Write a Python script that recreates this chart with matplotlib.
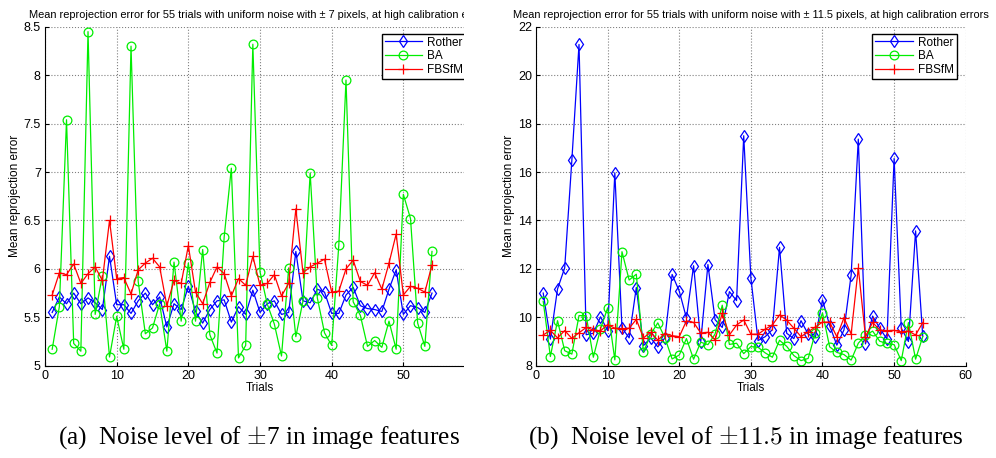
import numpy as np
import matplotlib
matplotlib.use('Agg')
import matplotlib.pyplot as plt
from matplotlib.patches import Rectangle

# Datos (54 pruebas)
trials = np.arange(1, 55)

# (a) ruido +-7
rother_a = [5.55, 5.71, 5.64, 5.75, 5.64, 5.70, 5.65, 5.58, 6.13, 5.63,
            5.63, 5.54, 5.67, 5.75, 5.63, 5.71, 5.40, 5.64, 5.58, 5.82,
            5.56, 5.44, 5.58, 5.67, 5.68, 5.45, 5.61, 5.53, 5.78, 5.55,
            5.64, 5.67, 5.53, 5.55, 6.18, 5.67, 5.65, 5.79, 5.76, 5.54,
            5.54, 5.73, 5.81, 5.62, 5.59, 5.58, 5.56, 5.79, 5.99, 5.53,
            5.62, 5.60, 5.55, 5.75]
ba_a = [5.17, 5.61, 7.54, 5.23, 5.15, 8.45, 5.53, 5.93, 5.09, 5.51,
        5.17, 8.30, 5.87, 5.33, 5.39, 5.64, 5.15, 6.07, 5.46, 6.06,
        5.46, 6.20, 5.32, 5.13, 6.33, 7.04, 5.08, 5.21, 8.32, 5.97,
        5.64, 5.43, 5.10, 6.01, 5.30, 5.67, 6.99, 5.70, 5.34, 5.21,
        6.25, 7.95, 5.66, 5.52, 5.20, 5.26, 5.19, 5.46, 5.17, 6.77,
        6.52, 5.44, 5.20, 6.18]
fbsfm_a = [5.73, 5.96, 5.94, 6.05, 5.85, 5.95, 6.02, 5.88, 6.50, 5.90,
           5.91, 5.74, 5.99, 6.06, 6.11, 6.02, 5.62, 5.88, 5.85, 6.24,
           5.76, 5.64, 5.86, 6.02, 5.95, 5.72, 5.90, 5.83, 6.13, 5.83,
           5.85, 5.94, 5.72, 5.85, 6.62, 5.96, 6.02, 6.06, 6.10, 5.76,
           5.77, 6.00, 6.09, 5.87, 5.83, 5.96, 5.79, 6.06, 6.36, 5.73,
           5.82, 5.80, 5.76, 6.04]

# (b) ruido +-11.5
rother_b = [11.00, 9.10, 11.17, 12.04, 16.49, 21.27, 9.28, 9.34, 10.02, 9.45,
            15.97, 9.56, 9.15, 11.23, 8.83, 9.15, 8.78, 9.15, 11.77, 11.08,
            9.97, 12.13, 9.00, 12.18, 9.90, 9.58, 11.06, 10.69, 17.50, 11.62,
            9.04, 9.20, 9.49, 12.89, 9.34, 9.12, 9.86, 9.30, 9.17, 10.72,
            9.66, 8.85, 9.48, 11.75, 17.36, 8.90, 10.05, 9.55, 9.10, 16.56,
            9.55, 9.00, 13.57, 9.22]
ba_b = [10.66, 8.38, 9.86, 8.62, 8.48, 10.07, 10.07, 8.35, 9.52, 10.39,
        8.24, 12.71, 11.54, 11.78, 8.55, 9.30, 9.77, 9.15, 8.28, 8.44,
        9.12, 8.27, 8.97, 8.87, 9.31, 10.50, 8.88, 8.93, 8.50, 8.79,
        8.76, 8.53, 8.35, 9.05, 8.80, 8.42, 8.21, 8.30, 9.36, 10.18,
        8.78, 8.55, 8.46, 8.23, 8.93, 9.25, 9.43, 9.01, 8.92, 8.87,
        8.21, 9.78, 8.27, 9.20]
fbsfm_b = [9.27, 9.46, 9.15, 9.45, 9.13, 9.36, 9.58, 9.48, 9.44, 9.70,
           9.55, 9.53, 9.55, 9.91, 9.15, 9.38, 9.06, 9.33, 9.24, 9.20,
           9.85, 9.79, 9.35, 9.38, 9.06, 10.18, 9.27, 9.68, 9.89, 9.30,
           9.30, 9.51, 9.68, 10.10, 9.88, 9.55, 9.20, 9.40, 9.60, 9.80,
           9.80, 9.20, 9.98, 9.31, 12.04, 9.20, 9.79, 9.47, 9.45, 9.46,
           9.40, 9.43, 9.27, 9.78]

titulos = ["Mean reprojection error for 55 trials with uniform noise with \u00b1 7 pixels, at high calibration errors",
           "Mean reprojection error for 55 trials with uniform noise with \u00b1 11.5 pixels, at high calibration errors"]
pies = ["(a)  Noise level of $\\pm$7 in image features",
        "(b)  Noise level of $\\pm 11.5$ in image features"]

plt.rcParams['font.family'] = ['Liberation Sans', 'DejaVu Sans']
plt.rcParams['mathtext.fontset'] = 'cm'

fig = plt.figure(figsize=(9.96, 4.58), dpi=100)
ax_a = fig.add_axes([0.0452, 0.2015, 0.4317, 0.740], zorder=0)
ax_b = fig.add_axes([0.5382, 0.2015, 0.4314, 0.740], zorder=2)


def dibujar(ax, r, b, f, titulo, ylim, yticks, ylabels):
    ax.plot(trials, r, color='blue', marker='d', mfc='none', ms=6, lw=0.9, mew=0.9, label='Rother')
    ax.plot(trials, b, color='#00ee00', marker='o', mfc='none', ms=6.3, lw=0.9, mew=0.9, label='BA')
    ax.plot(trials, f, color='red', marker='+', ms=7, lw=0.9, mew=0.9, label='FBSfM')
    ax.set_xlim(0, 60)
    ax.set_ylim(*ylim)
    ax.set_xticks(range(0, 61, 10))
    ax.set_yticks(yticks)
    ax.set_yticklabels(ylabels)
    ax.tick_params(direction='in', length=3, labelsize=9, pad=3)
    ax.grid(True, linestyle=':', color='0.5', linewidth=0.8)
    for s in ['top', 'right']:
        ax.spines[s].set_visible(False)
    ax.set_title(titulo, fontsize=7.9, pad=6)
    ax.set_xlabel('Trials', fontsize=8.5, labelpad=0)
    ax.set_ylabel('Mean reprojection error', fontsize=8.5, labelpad=2)
    leg = ax.legend(loc='upper right', bbox_to_anchor=(0.979, 0.98), borderaxespad=0,
                    fancybox=False, edgecolor='black', fontsize=8.5, handlelength=3.2,
                    borderpad=0.25, labelspacing=0.15, handletextpad=0.4, framealpha=1)
    leg.get_frame().set_linewidth(1.0)


dibujar(ax_a, rother_a, ba_a, fbsfm_a, titulos[0], (5, 8.5),
        np.arange(5, 8.51, 0.5), ['5', '5.5', '6', '6.5', '7', '7.5', '8', '8.5'])
dibujar(ax_b, rother_b, ba_b, fbsfm_b, titulos[1], (8, 22),
        range(8, 23, 2), [str(v) for v in range(8, 23, 2)])
ax_a.set_xticks(range(0, 51, 10))

# recorte del panel izquierdo (la figura original esta cortada)
fig.patches.append(Rectangle((463.5 / 996, 0), 36 / 996, 1, transform=fig.transFigure,
                             facecolor='white', edgecolor='none', zorder=1))

fig.text(259 / 996, 0.045, pies[0], ha='center', va='center', fontsize=18.2, family='Liberation Serif')
fig.text(746 / 996, 0.045, pies[1], ha='center', va='center', fontsize=18.2, family='Liberation Serif')

fig.savefig('out.png', dpi=100)
